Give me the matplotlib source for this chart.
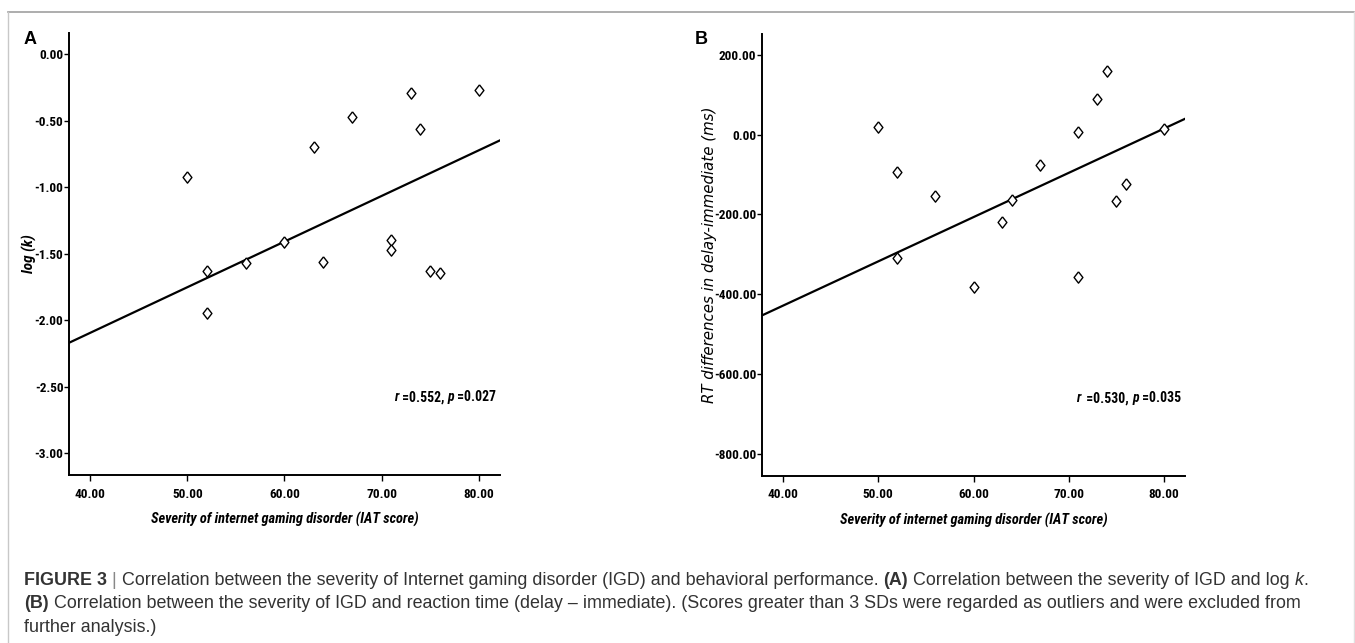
import numpy as np
import matplotlib
matplotlib.use("Agg")
import matplotlib.pyplot as plt
from matplotlib.lines import Line2D
from matplotlib.text import Annotation
from matplotlib import font_manager

plt.rcParams["axes.unicode_minus"] = False

# IAT score (x) shared by both panels
iat = [50, 52, 52, 56, 60, 63, 64, 67, 71, 71, 73, 74, 75, 76, 80]

# panel A: log(k)
log_k = [-0.92, -1.63, -1.945, -1.57, -1.41, -0.70, -1.56, -0.47,
         -1.40, -1.47, -0.29, -0.56, -1.63, -1.645, -0.27]

# panel B: RT differences delay-immediate (ms), same order as iat
rt_diff = [20, -310, -93, -154, -382, -218, -164, -76,
           7, -357, 89, 160, -166, -124, 15]

# fit lines as printed in the figure (slope, intercept)
fit_a = (0.0343, -3.467)
fit_b = (11.09, -872.0)

a_ticks_y = [0.0, -0.5, -1.0, -1.5, -2.0, -2.5, -3.0]
b_ticks_y = [200, 0, -200, -400, -600, -800]
x_ticks = [40, 50, 60, 70, 80]

SANS = ["Liberation Sans", "DejaVu Sans"]
names = {f.name for f in font_manager.fontManager.ttflist}
COND = ["Roboto Condensed"] + SANS if "Roboto Condensed" in names else SANS
condensed = COND[0] == "Roboto Condensed"

W, H = 1355, 643
fig = plt.figure(figsize=(W / 100, H / 100), dpi=100)

# diamond marker, a bit taller than wide
diamond = [(0, 1), (0.78, 0), (0, -1), (-0.78, 0), (0, 1)]


def px_axes(left, top, right, bottom):
    return fig.add_axes([left / W, 1 - bottom / H, (right - left) / W, (bottom - top) / H])


def chain_right(ax, x, y, pieces, size):
    # pieces drawn right-to-left, anchored on the last piece
    prev = None
    for txt, weight, style in reversed(pieces):
        kw = dict(fontsize=size, fontweight=weight, fontstyle=style,
                  family=COND, color="black", ha="right", va="bottom")
        if prev is None:
            prev = ax.annotate(txt, xy=(x, y), xycoords="axes fraction", **kw)
        else:
            prev = ax.annotate(txt, xy=(0, 0), xycoords=prev, **kw)


def panel(ax, y, fit, ylim, yticks, ylabel, ylabel_kw, ylab_x, stat, letter, letter_x):
    ax.scatter(iat, y, marker=diamond, s=66, facecolors="white",
               edgecolors="black", linewidths=1.0, zorder=3)
    xl = np.array([37.8, 82.2])
    ax.plot(xl, fit[0] * xl + fit[1], color="black", linewidth=1.6, zorder=2)
    ax.set_xlim(xl)
    ax.set_ylim(ylim)
    ax.set_xticks(x_ticks)
    ax.set_xticklabels([f"{v:.2f}" for v in x_ticks])
    ax.set_yticks(yticks)
    ax.set_yticklabels([f"{v:.2f}" for v in yticks])
    for s in ["top", "right"]:
        ax.spines[s].set_visible(False)
    for s in ["left", "bottom"]:
        ax.spines[s].set_linewidth(1.4)
    ax.tick_params(axis="x", direction="out", length=4, width=1.0, pad=5)
    ax.tick_params(axis="y", direction="out", length=3.5, width=1.0, pad=0.5)
    for lab in ax.get_xticklabels() + ax.get_yticklabels():
        lab.set_family(COND)
        lab.set_fontweight("bold")
        lab.set_fontsize(9.5 if condensed else 8.5)
    ax.set_xlabel("Severity of internet gaming disorder (IAT score)", family=COND,
                  fontsize=10.4 if condensed else 9, fontweight="bold",
                  fontstyle="italic", labelpad=8)
    ax.set_ylabel(ylabel, **ylabel_kw)
    ax.yaxis.set_label_coords(ylab_x, 0.5)
    chain_right(ax, stat[0], stat[1], stat[2], 9.9 if condensed else 9)
    fig.text(letter_x / W, 1 - 39 / H, letter, family=SANS, fontsize=13,
             fontweight="bold", va="center", ha="left")


ax_a = px_axes(69, 33, 500, 475)
panel(ax_a, log_k, fit_a, (-3.165, 0.16), a_ticks_y, "log (k)",
      dict(family=COND, fontsize=11 if condensed else 10, fontweight="bold", fontstyle="italic"),
      (37 - 69) / 431,
      (0.99, 0.16, [("r", "bold", "italic"), (" =0.552, ", "bold", "normal"),
                    ("p", "bold", "italic"), (" =0.027", "bold", "normal")]),
      "A", 24)

ax_b = px_axes(762, 34, 1185, 476)
panel(ax_b, rt_diff, fit_b, (-855, 252), b_ticks_y, "RT differences in delay-immediate (ms)",
      dict(family=["DejaVu Sans"], fontsize=10.8, fontweight="normal", fontstyle="italic"),
      (717 - 762) / 423,
      (0.99, 0.16, [("r", "bold", "italic"), ("  =0.530, ", "bold", "normal"),
                    ("p", "bold", "italic"), (" =0.035", "bold", "normal")]),
      "B", 695)

# outer frame
fig.add_artist(Line2D([8 / W, 1353.5 / W], [1 - 12 / H, 1 - 12 / H], color="#a0a0a0", lw=1.2))
fig.add_artist(Line2D([8 / W, 8 / W], [0, 1 - 12 / H], color="#c8c8c8", lw=1.0))
fig.add_artist(Line2D([1353.5 / W, 1353.5 / W], [0, 1 - 12 / H], color="#e0e0e0", lw=1.0))

# caption
cap_color = "#333333"
lines = [
    [("FIGURE 3", "bold", "normal", cap_color), (" | ", "normal", "normal", "#888888"),
     ("Correlation between the severity of Internet gaming disorder (IGD) and behavioral performance. ",
      "normal", "normal", cap_color),
     ("(A)", "bold", "normal", cap_color),
     (" Correlation between the severity of IGD and log ", "normal", "normal", cap_color),
     ("k", "normal", "italic", cap_color), (".", "normal", "normal", cap_color)],
    [("(B)", "bold", "normal", cap_color),
     (" Correlation between the severity of IGD and reaction time (delay \u2013 immediate). "
      "(Scores greater than 3 SDs were regarded as outliers and were excluded from",
      "normal", "normal", cap_color)],
    [("further analysis.)", "normal", "normal", cap_color)],
]
for i, pieces in enumerate(lines):
    base = 589 + i * 23.5
    prev = None
    for txt, weight, style, color in pieces:
        kw = dict(fontsize=12.9, fontweight=weight, fontstyle=style,
                  family=SANS, color=color, ha="left", va="bottom")
        if prev is None:
            prev = fig.text(24 / W, 1 - base / H, txt, **kw)
        else:
            prev = fig.add_artist(Annotation(txt, xy=(1, 0), xycoords=prev, **kw))

fig.savefig("out.png", dpi=100)
